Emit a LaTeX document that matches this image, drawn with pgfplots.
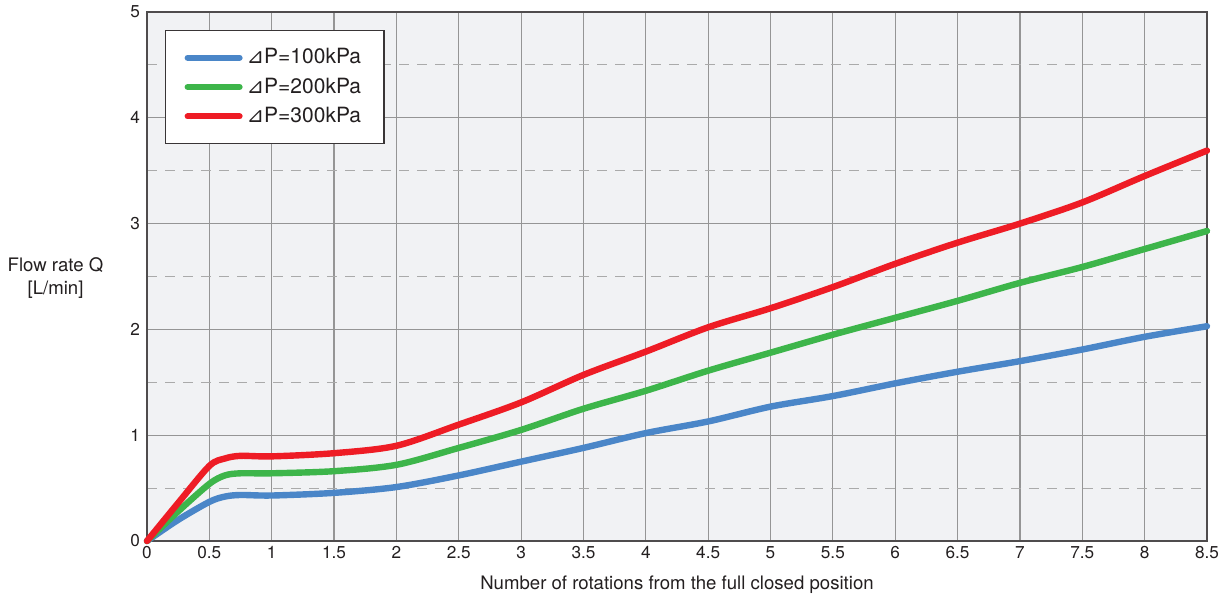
\documentclass[border=0pt]{standalone}
\usepackage{pgfplots}
\pgfplotsset{compat=1.18}
\usepackage{fontspec}
\setmainfont{TeX Gyre Heros}
\newfontfamily\dv{DejaVu Sans}
\definecolor{cblue}{HTML}{4A86C8}
\definecolor{cgreen}{HTML}{3DB54A}
\definecolor{cred}{HTML}{EE1C25}
\definecolor{bg}{HTML}{F1F2F4}
\definecolor{gridc}{HTML}{959595}
\definecolor{txt}{HTML}{231F20}
\begin{document}
\begin{tikzpicture}[x=1pt,y=1pt]
\useasboundingbox (-73.5,-27.5) rectangle (536,270.5);
\begin{axis}[
  at={(0,0)}, anchor=south west,
  scale only axis, width=530pt, height=264.5pt,
  xmin=0, xmax=8.5, ymin=0, ymax=5,
  xtick={0,0.5,...,8.5},
  xticklabels={0,0.5,1,1.5,2,2.5,3,3.5,4,4.5,5,5.5,6,6.5,7,7.5,8,8.5},
  ytick={0,1,2,3,4,5},
  minor ytick={0.5,1.5,2.5,3.5,4.5},
  major tick length=0pt, minor tick length=0pt,
  xmajorgrids, ymajorgrids, yminorgrids,
  major grid style={gridc, line width=0.6pt},
  minor grid style={gridc!80, line width=0.5pt, dash pattern=on 5pt off 4pt},
  axis background/.style={fill=bg},
  axis line style={draw=txt!80, line width=0.8pt},
  tick label style={font=\fontsize{8.6}{9}\selectfont, text=txt},
  /pgf/number format/assume math mode=true,
  xticklabel style={yshift=1pt},
  xlabel={Number of rotations from the full closed position},
  xlabel style={font=\fontsize{9.3}{11}\selectfont, text=txt, yshift=-2pt},
  clip=false,
  legend style={at={(axis description cs:0.017,0.966)}, anchor=north west,
    draw=txt!90, line width=0.6pt, fill=white, font=\fontsize{10.5}{12}\selectfont,
    inner xsep=9.5pt, inner ysep=7pt, row sep=1.5pt, text=txt},
  legend cell align=left,
  legend image code/.code={\draw[line width=3pt, line cap=round] (0pt,0pt) -- (26pt,0pt);},
]
\addplot[cblue, line width=3.2pt, smooth, tension=0.5, line cap=round] coordinates {
(0,0) (0.25,0.2) (0.5,0.37) (0.625,0.42) (0.75,0.435) (1,0.43) (1.5,0.455) (2,0.51) (2.5,0.62) (3,0.75) (3.5,0.88) (4,1.02) (4.5,1.13) (5,1.27) (5.5,1.37) (6,1.49) (6.5,1.60) (7,1.70) (7.5,1.81) (8,1.93) (8.5,2.03)};
\addlegendentry{{\dv ⊿}P=100kPa}
\addplot[cgreen, line width=3.2pt, smooth, tension=0.5, line cap=round] coordinates {
(0,0) (0.25,0.28) (0.5,0.54) (0.625,0.62) (0.75,0.64) (1,0.64) (1.5,0.66) (2,0.72) (2.5,0.88) (3,1.05) (3.5,1.25) (4,1.42) (4.5,1.61) (5,1.78) (5.5,1.95) (6,2.11) (6.5,2.27) (7,2.44) (7.5,2.59) (8,2.76) (8.5,2.93)};
\addlegendentry{{\dv ⊿}P=200kPa}
\addplot[cred, line width=3.2pt, smooth, tension=0.5, line cap=round] coordinates {
(0,0) (0.25,0.36) (0.5,0.71) (0.625,0.78) (0.75,0.805) (1,0.80) (1.5,0.83) (2,0.90) (2.5,1.10) (3,1.31) (3.5,1.57) (4,1.79) (4.5,2.02) (5,2.20) (5.5,2.40) (6,2.62) (6.5,2.82) (7,3.00) (7.5,3.20) (8,3.45) (8.5,3.69)};
\addlegendentry{{\dv ⊿}P=300kPa}
\node[align=center, font=\fontsize{9.3}{11.5}\selectfont, text=txt] at (axis description cs:-0.0863,0.497) {Flow rate Q\\{[}L/min{]}};
\end{axis}
\end{tikzpicture}
\end{document}
